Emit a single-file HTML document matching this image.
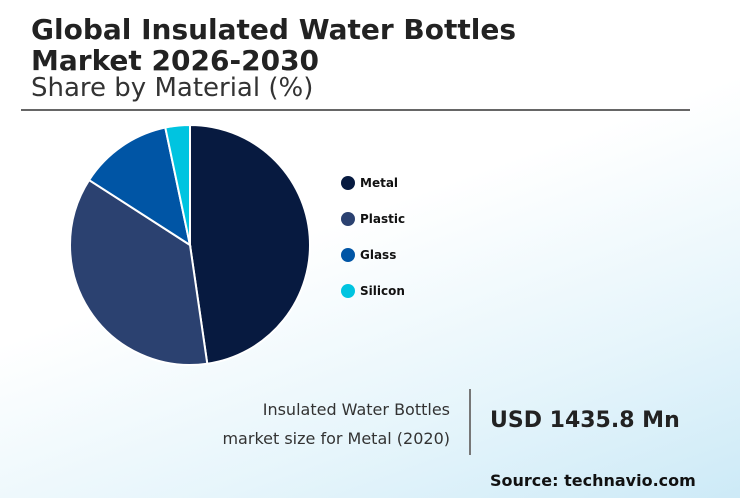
<!DOCTYPE html>
<html><head><meta charset="utf-8"><style>
body{margin:0}
#root{position:relative;width:740px;height:498px;overflow:hidden;font-family:"DejaVu Sans","Liberation Sans",sans-serif;background:linear-gradient(160deg,#ffffff 0%,#ffffff 45%,#e6f5fb 75%,#cdeaf7 100%);}
.t{position:absolute;white-space:nowrap;color:#222}
</style></head><body>
<div id="root">
<div class="t" style="left:31px;top:14px;font-size:28px;font-weight:bold;line-height:31px;color:#222">Global Insulated Water Bottles<br>Market 2026-2030</div>
<div class="t" style="left:31px;top:73px;font-size:26px;color:#333">Share by Material (%)</div>
<div style="position:absolute;left:21px;top:109px;width:669px;height:2px;background:#666"></div>
<svg id="pie" width="740" height="498" style="position:absolute;left:0;top:0"></svg>
<div class="t" style="left:150px;top:395px;width:300px;text-align:right;font-size:16px;line-height:29px;color:#333">Insulated Water Bottles<br>market size for Metal (2020)</div>
<div style="position:absolute;left:469px;top:389px;width:2px;height:66px;background:#777"></div>
<div class="t" style="left:490px;top:408px;font-size:22px;font-weight:bold">USD 1435.8 Mn</div>
<div class="t" style="left:490px;top:471px;font-size:16px;font-weight:bold;color:#111">Source: technavio.com</div>
</div>
<script>
const categories=["Metal","Plastic","Glass","Silicon"];
const values=[47.7,36.4,12.6,3.3];
const colors=["#071a40","#2b4170","#0055a5","#00c4e0"];
const svg=document.getElementById('pie');const NS="http://www.w3.org/2000/svg";
const cx=190,cy=245,r=120;
const total=values.reduce((a,b)=>a+b,0);
function pt(a){return [cx+r*Math.sin(a),cy-r*Math.cos(a)];}
let a0=0;
values.forEach((v,i)=>{
 const a1=a0+v/total*2*Math.PI;const p0=pt(a0),p1=pt(a1);
 const path=document.createElementNS(NS,'path');
 path.setAttribute('d',`M${cx},${cy}L${p0[0]},${p0[1]}A${r},${r} 0 ${a1-a0>Math.PI?1:0} 1 ${p1[0]},${p1[1]}Z`);
 path.setAttribute('fill',colors[i]);path.setAttribute('stroke','#fff');path.setAttribute('stroke-width','2');
 
 
 svg.appendChild(path);a0=a1;
 const y=183+i*36;
 const c=document.createElementNS(NS,'circle');c.setAttribute('cx',348);c.setAttribute('cy',y);c.setAttribute('r',7);c.setAttribute('fill',colors[i]);
 
 
 svg.appendChild(c);
 const t=document.createElementNS(NS,'text');t.setAttribute('x',360);t.setAttribute('y',y+4);t.setAttribute('font-size','12');t.setAttribute('font-weight','bold');t.setAttribute('fill','#111');t.textContent=categories[i];
 
 
 svg.appendChild(t);
});
</script>
</body></html>
